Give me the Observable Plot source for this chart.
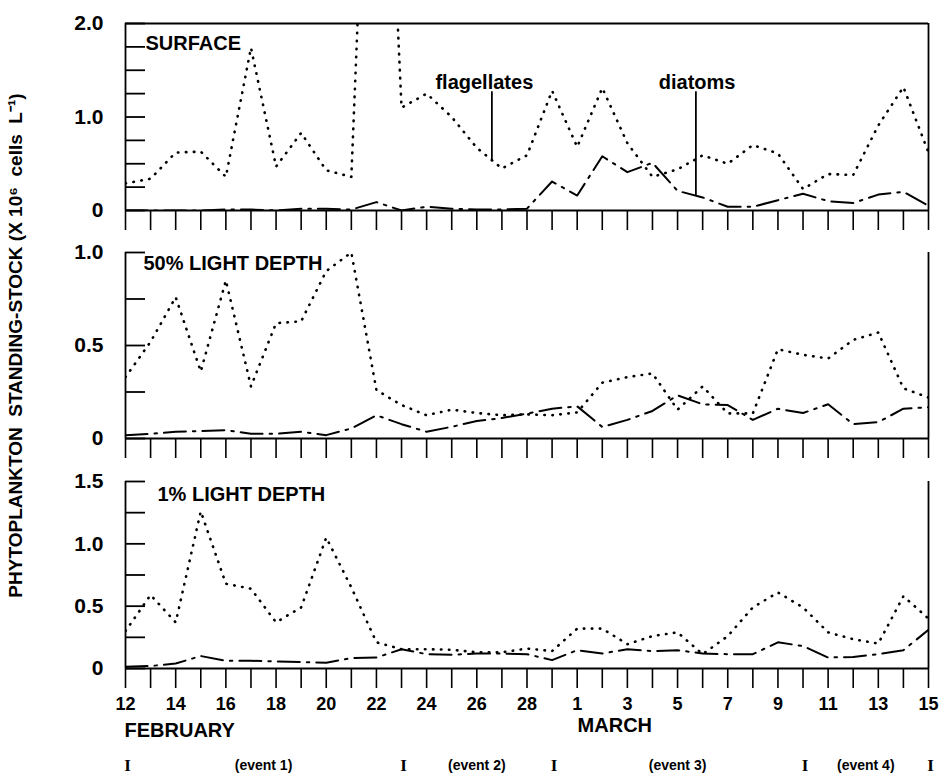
<!DOCTYPE html>
<html>
<head>
<meta charset="utf-8">
<script src="https://cdn.jsdelivr.net/npm/d3@7"></script>
<script src="https://cdn.jsdelivr.net/npm/@observablehq/plot@0.6"></script>
<style>
  body { margin: 0; background: #fff; }
  #chart { position: relative; width: 942px; height: 774px; }
  #chart svg { position: absolute; left: 0; top: 0; }
</style>
</head>
<body>
<div id="chart"></div>
<script>
// ---- data ----
const dayLabels = ["12","13","14","15","16","17","18","19","20","21","22","23","24","25","26","27","28","29",
                   "1","2","3","4","5","6","7","8","9","10","11","12","13","14","15"];

const surfaceFlagellates = [0.29,0.34,0.62,0.63,0.36,1.74,0.47,0.83,0.43,0.36,7.0,1.10,1.25,1.00,0.67,0.45,0.59,
                            1.28,0.68,1.31,0.72,0.36,0.44,0.59,0.50,0.70,0.61,0.23,0.39,0.38,0.91,1.32,0.62];
const surfaceDiatoms     = [0.00,0.00,0.00,0.00,0.01,0.01,0.00,0.02,0.02,0.01,0.09,0.00,0.04,0.02,0.01,0.01,0.02,
                            0.31,0.16,0.58,0.41,0.51,0.21,0.14,0.04,0.04,0.11,0.18,0.10,0.08,0.17,0.20,0.05];

const mid50Flagellates = [0.33,0.52,0.76,0.36,0.85,0.28,0.62,0.63,0.90,1.00,0.26,0.18,0.125,0.155,0.137,0.125,0.13,
                          0.125,0.14,0.30,0.33,0.35,0.155,0.28,0.135,0.135,0.48,0.45,0.43,0.53,0.57,0.27,0.22];
const mid50Diatoms     = [0.018,0.025,0.036,0.04,0.045,0.025,0.025,0.036,0.018,0.054,0.125,0.077,0.036,0.063,0.094,0.11,0.134,
                          0.16,0.173,0.062,0.10,0.148,0.232,0.184,0.18,0.10,0.16,0.137,0.184,0.077,0.088,0.16,0.168];

const deep1Flagellates = [0.30,0.59,0.37,1.26,0.68,0.64,0.37,0.49,1.05,0.65,0.21,0.155,0.155,0.15,0.13,0.13,0.16,
                          0.14,0.32,0.32,0.195,0.26,0.29,0.115,0.26,0.49,0.61,0.49,0.29,0.235,0.20,0.58,0.40];
const deep1Diatoms     = [0.014,0.02,0.04,0.10,0.062,0.062,0.057,0.052,0.047,0.083,0.088,0.155,0.115,0.11,0.12,0.12,0.115,
                          0.067,0.147,0.12,0.155,0.14,0.147,0.12,0.115,0.115,0.21,0.18,0.088,0.093,0.115,0.147,0.31];

const panelNames = ["SURFACE", "50% LIGHT DEPTH", "1% LIGHT DEPTH"];
const yMaxima = [2.0, 1.0, 1.5];
const yLabelTicks = [[0, 1.0, 2.0], [0, 0.5, 1.0], [0, 0.5, 1.0, 1.5]];

const annotationLabels = ["flagellates", "diatoms"];
const annotationDays   = [14.6, 22.73];
const annotationTextDays = [14.3, 22.78];
const annotationTop    = [1.27, 1.27];
const annotationBottom = [0.53, 0.15];

const monthLabels = ["FEBRUARY", "MARCH"];
const monthDays = [0, 19.5];

const eventBounds = [0, 11, 17, 27, 32];
const eventNames = ["(event 1)", "(event 2)", "(event 3)", "(event 4)"];

const yTitle = "PHYTOPLANKTON  STANDING-STOCK (X 10\u2076  cells  L\u207B\u00B9)";

// ---- layout ----
const W = 942, H = 774;
const FONT = "'Liberation Sans', Arial, Helvetica, sans-serif";
const SERIF = "'Liberation Serif', 'Times New Roman', serif";
const frames = [[23, 210], [252, 438], [481, 668]];
const series = [
  [surfaceFlagellates, surfaceDiatoms],
  [mid50Flagellates, mid50Diatoms],
  [deep1Flagellates, deep1Diatoms]
];
const nameOffsets = [[20, 20], [18, 11], [32, 13]];

const chart = document.getElementById("chart");
const dayIdx = d3.range(dayLabels.length);
const lastDay = dayLabels.length - 1;
const fmtY = d => d === 0 ? "0" : d.toFixed(1);

series.forEach(([flag, diat], p) => {
  const rows = dayIdx.map(i => ({i, flag: flag[i], diat: diat[i]}));
  const yMax = yMaxima[p];
  const [top, bottom] = frames[p];
  const isBottom = p === 2;
  const marks = [
    Plot.axisY({ticks: d3.range(0, yMax + 1e-9, 0.25), tickSize: -20, tickFormat: () => "", strokeWidth: 1.8, label: null}),
    Plot.axisY({ticks: yLabelTicks[p], tickSize: 0, tickPadding: 22, tickFormat: fmtY, fontSize: 21,
                fontWeight: "bold", label: null}),
    Plot.axisX({ticks: dayIdx, tickSize: 20, tickPadding: 9, strokeWidth: 1.6, label: null,
                tickFormat: isBottom ? (i => i % 2 === 0 ? dayLabels[i] : "") : () => "",
                fontSize: 18, fontWeight: "bold"}),
    Plot.ruleX([0, lastDay], {strokeWidth: 1.8}),
    Plot.ruleY([0], {strokeWidth: 1.8}),
    Plot.line(rows, {x: "i", y: "flag", stroke: "#000", strokeWidth: 2.6, strokeDasharray: "0.5,7.5",
                     strokeLinecap: "round", clip: true}),
    Plot.line(rows, {x: "i", y: "diat", stroke: "#000", strokeWidth: 2, strokeDasharray: "22,7,2.5,7", clip: true}),
    Plot.text([panelNames[p]], {frameAnchor: "top-left", textAnchor: "start", lineAnchor: "middle",
                                dx: nameOffsets[p][0], dy: nameOffsets[p][1], fontSize: 20, fontWeight: "bold"})
  ];
  if (p === 0) {
    const ann = annotationLabels.map((label, k) => ({label, x: annotationDays[k], tx: annotationTextDays[k],
                                                     y1: annotationTop[k], y2: annotationBottom[k]}));
    marks.push(
      Plot.ruleY([yMax], {strokeWidth: 1.8}),
      Plot.ruleX(ann, {x: "x", y1: "y1", y2: "y2", strokeWidth: 1.8}),
      Plot.text(ann, {x: "tx", y: d => d.y1 + 0.1, text: "label", fontSize: 20, fontWeight: "bold",
                      textAnchor: "middle", lineAnchor: "middle"})
    );
  }
  if (p === 1) {
    marks.push(Plot.text([yTitle], {frameAnchor: "left", dx: -110, rotate: -90, fontSize: 19, fontWeight: "bold",
                                    textAnchor: "middle", lineAnchor: "middle"}));
  }
  if (isBottom) {
    const events = eventNames.map((name, k) => ({name, mid: (eventBounds[k] + eventBounds[k + 1]) / 2}));
    const bounds = eventBounds.map(b => ({b, mark: "I"}));
    marks.push(
      Plot.text([monthLabels[0]], {x: monthDays[0], frameAnchor: "bottom", dy: 62, dx: -1, textAnchor: "start",
                                   lineAnchor: "middle", fontSize: 20, fontWeight: "bold"}),
      Plot.text([monthLabels[1]], {x: monthDays[1], frameAnchor: "bottom", dy: 57, textAnchor: "middle",
                                   lineAnchor: "middle", fontSize: 20, fontWeight: "bold"}),
      Plot.text(bounds, {x: "b", text: "mark", frameAnchor: "bottom", dy: 97, dx: 2,
                         textAnchor: "middle", lineAnchor: "middle", fontSize: 17,
                         fontFamily: SERIF, fontWeight: "bold"}),
      Plot.text(events, {x: "mid", text: "name", frameAnchor: "bottom", dy: 97, textAnchor: "middle",
                         lineAnchor: "middle", fontSize: 14, fontWeight: "bold"})
    );
  }
  const svg = Plot.plot({
    width: W, height: H,
    marginLeft: 125, marginRight: 14, marginTop: top, marginBottom: H - bottom,
    x: {domain: [0, lastDay], axis: null, label: null},
    y: {domain: [0, yMax], axis: null, label: null},
    style: {fontFamily: FONT, fontWeight: "bold", background: "transparent", color: "#000", overflow: "visible"},
    marks
  });
  chart.appendChild(svg);
});
</script>
</body>
</html>
